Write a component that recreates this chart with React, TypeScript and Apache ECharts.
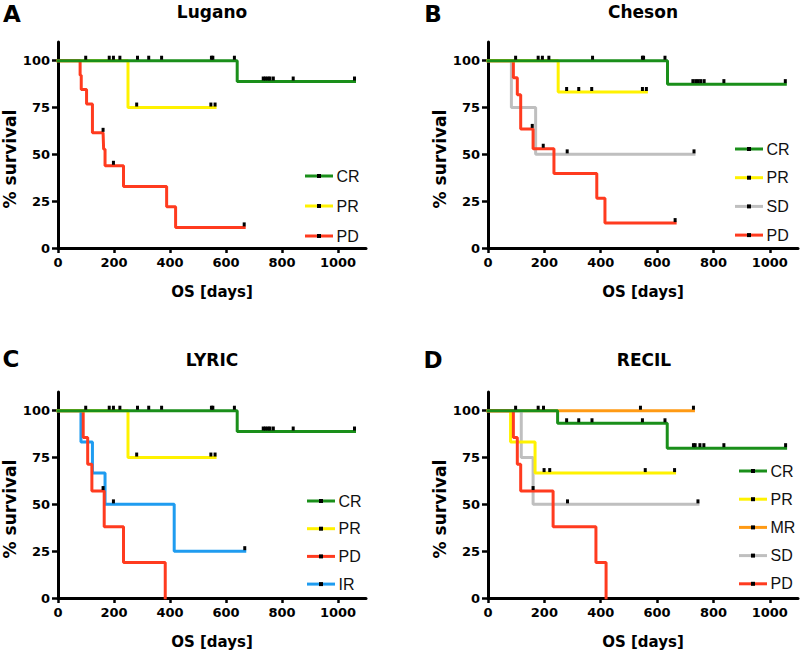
import React, { useEffect, useRef } from "react";
import * as echarts from "echarts";

// Each entry: [day, survival %, censored (1) / event (0)]
type KM = [number, number, number][];

// ---------- A: Lugano ----------
const luganoCR: KM = [[0,100,0],[99,100,1],[183,100,1],[198,100,1],[221,100,1],[284,100,1],[324,100,1],[370,100,1],[548,100,1],[553,100,1],[630,100,1],[640,88.9,0],[733,88.9,1],[741,88.9,1],[750,88.9,1],[757,88.9,1],[769,88.9,1],[840,88.9,1],[1059,88.9,1]];
const luganoPR: KM = [[0,100,0],[250,75,0],[281,75,1],[546,75,1],[561,75,1]];
const luganoPD: KM = [[0,100,0],[79,92.3,0],[83,84.6,0],[102,76.9,0],[123,61.5,0],[161,61.5,1],[163,52.7,0],[168,43.9,0],[198,43.9,1],[234,32.9,0],[388,22,0],[420,11,0],[665,11,1]];

// ---------- B: Cheson ----------
const chesonCR: KM = [[0,100,0],[98,100,1],[178,100,1],[193,100,1],[216,100,1],[371,100,1],[548,100,1],[552,100,1],[628,100,1],[637,87.5,0],[727,87.5,1],[737,87.5,1],[746,87.5,1],[755,87.5,1],[767,87.5,1],[837,87.5,1],[1055,87.5,1]];
const chesonPR: KM = [[0,100,0],[249,83.3,0],[279,83.3,1],[322,83.3,1],[368,83.3,1],[548,83.3,1],[562,83.3,1]];
const chesonSD: KM = [[0,100,0],[83,75,0],[169,50,0],[281,50,1],[731,50,1]];
const chesonPD: KM = [[0,100,0],[90,90.9,0],[104,81.8,0],[116,63.6,0],[157,63.6,1],[160,53,0],[196,53,1],[234,39.8,0],[386,26.5,0],[415,13.3,0],[664,13.3,1]];

// ---------- C: LYRIC ----------
const lyricCR: KM = [[0,100,0],[99,100,1],[183,100,1],[198,100,1],[221,100,1],[284,100,1],[324,100,1],[370,100,1],[548,100,1],[553,100,1],[630,100,1],[640,88.9,0],[733,88.9,1],[741,88.9,1],[750,88.9,1],[757,88.9,1],[769,88.9,1],[840,88.9,1],[1059,88.9,1]];
const lyricPR: KM = [[0,100,0],[250,75,0],[281,75,1],[546,75,1],[561,75,1]];
const lyricPD: KM = [[0,100,0],[90,85.7,0],[106,71.4,0],[121,57.1,0],[161,57.1,1],[165,38.1,0],[234,19,0],[383,0,0]];
const lyricIR: KM = [[0,100,0],[82,83.3,0],[123,66.7,0],[168,50,0],[198,50,1],[415,25,0],[667,25,1]];

// ---------- D: RECIL ----------
const recilCR: KM = [[0,100,0],[98,100,1],[178,100,1],[197,100,1],[247,93.3,0],[279,93.3,1],[322,93.3,1],[369,93.3,1],[548,93.3,1],[628,93.3,1],[636,80,0],[729,80,1],[735,80,1],[752,80,1],[766,80,1],[837,80,1],[1056,80,1]];
const recilPR: KM = [[0,100,0],[80,83.3,0],[167,66.7,0],[199,66.7,1],[219,66.7,1],[558,66.7,1],[662,66.7,1]];
const recilMR: KM = [[0,100,0],[541,100,1],[729,100,1]];
const recilSD: KM = [[0,100,0],[118,75,0],[160,50,0],[282,50,1],[745,50,1]];
const recilPD: KM = [[0,100,0],[90,85.7,0],[104,71.4,0],[116,57.1,0],[160,57.1,1],[231,38.1,0],[383,19,0],[419,0,0]];

// ---------- axes ----------
const xTicks = [0, 200, 400, 600, 800, 1000];
const yTicks = [0, 25, 50, 75, 100];
const xMax = 1100;
const yMax = 110;

const panelTitles = ["Lugano", "Cheson", "LYRIC", "RECIL"];
const panelLetters = ["A", "B", "C", "D"];

// legend order per panel
const legendOrder = [
  ["CR", "PR", "PD"],
  ["CR", "PR", "SD", "PD"],
  ["CR", "PR", "PD", "IR"],
  ["CR", "PR", "MR", "SD", "PD"],
];

// draw order (last on top)
const panelSeries: [string, KM][][] = [
  [["PR", luganoPR], ["PD", luganoPD], ["CR", luganoCR]],
  [["SD", chesonSD], ["PD", chesonPD], ["PR", chesonPR], ["CR", chesonCR]],
  [["IR", lyricIR], ["PD", lyricPD], ["PR", lyricPR], ["CR", lyricCR]],
  [["MR", recilMR], ["SD", recilSD], ["PR", recilPR], ["PD", recilPD], ["CR", recilCR]],
];

const COLORS: Record<string, string> = {
  CR: "#1a8f1a",
  PR: "#fff200",
  PD: "#ff3b1f",
  SD: "#bfbfbf",
  IR: "#1f9cf0",
  MR: "#ff9a14",
};

// layout
const grids = [
  { left: 57, top: 42, width: 309, height: 206 },
  { left: 488, top: 42, width: 310, height: 206 },
  { left: 57, top: 392, width: 309, height: 206 },
  { left: 488, top: 392, width: 310, height: 206 },
];
const legendPos = [
  { left: 300, top: 163, itemGap: 14 },
  { left: 730, top: 136, itemGap: 12.7 },
  { left: 302, top: 488, itemGap: 11.7 },
  { left: 734, top: 458, itemGap: 12.2 },
];
const titlePos = [
  { x: 212, y: 12 },
  { x: 643, y: 12 },
  { x: 212, y: 360 },
  { x: 644, y: 360 },
];
const letterPos = [
  { x: 12, y: 14 },
  { x: 433, y: 14 },
  { x: 11, y: 359 },
  { x: 433, y: 360 },
];

const BOLD = "DejaVu Sans";

export default function App() {
  const ref = useRef<HTMLDivElement>(null);
  useEffect(() => {
    if (!ref.current) return;
    const chart = echarts.init(ref.current, undefined, { renderer: "svg" });

    const series: any[] = [];
    panelSeries.forEach((list, pi) => {
      list.forEach(([name, data]) => {
        series.push({
          type: "line",
          name,
          xAxisIndex: pi,
          yAxisIndex: pi,
          step: "end",
          symbol: "rect",
          symbolSize: [3, 4],
          symbolOffset: [0, -3],
          showSymbol: true,
          showAllSymbol: true,
          silent: true,
          lineStyle: { color: COLORS[name], width: 3, cap: "square" },
          itemStyle: { color: "#000" },
          data: data.map(([x, y, c]) => ({
            value: [x, y],
            symbol: c ? "rect" : "none",
          })),
        });
      });
    });

    const axisLabelStyle = {
      fontFamily: BOLD,
      fontWeight: "bold",
      fontSize: 13,
      color: "#000",
    };

    const xAxis = grids.map((_, i) => ({
      type: "value",
      gridIndex: i,
      min: 0,
      max: xMax,
      interval: 200,
      axisLine: { show: true, onZero: false, lineStyle: { color: "#000", width: 3 } },
      axisTick: { show: true, length: 5, customValues: xTicks, lineStyle: { color: "#000", width: 2.5 } },
      axisLabel: {
        ...axisLabelStyle,
        margin: 8,
        customValues: xTicks,
        formatter: (v: number) => String(v),
      },
      splitLine: { show: false },
      name: "OS [days]",
      nameLocation: "middle",
      nameGap: 36,
      nameTextStyle: { fontFamily: BOLD, fontWeight: "bold", fontSize: 15, color: "#000" },
    }));

    const yAxis = grids.map((_, i) => ({
      type: "value",
      gridIndex: i,
      min: 0,
      max: yMax,
      interval: 25,
      axisLine: { show: true, onZero: false, lineStyle: { color: "#000", width: 3 } },
      axisTick: { show: true, length: 6, customValues: yTicks, lineStyle: { color: "#000", width: 2.5 } },
      axisLabel: {
        ...axisLabelStyle,
        margin: 8,
        customValues: yTicks,
        formatter: (v: number) => String(v),
      },
      splitLine: { show: false },
      name: "% survival",
      nameLocation: "middle",
      nameGap: 40,
      nameRotate: 90,
      nameTextStyle: {
        fontFamily: BOLD,
        fontWeight: "bold",
        fontSize: 17,
        color: "#000",
        padding: [0, 28, 0, 0],
      },
    }));

    const legend = legendOrder.map((names, i) => ({
      show: true,
      orient: "vertical",
      left: legendPos[i].left,
      top: legendPos[i].top,
      itemGap: legendPos[i].itemGap,
      itemWidth: 25,
      itemHeight: 5,
      selectedMode: false,
      data: names,
      lineStyle: { width: 3 },
      textStyle: { fontFamily: "Liberation Sans", fontSize: 16, color: "#111" },
    }));

    const graphic: any[] = [];
    panelTitles.forEach((t, i) => {
      graphic.push({
        type: "text",
        x: titlePos[i].x,
        y: titlePos[i].y,
        silent: true,
        style: {
          text: t,
          fontFamily: BOLD,
          fontWeight: "bold",
          fontSize: 17,
          fill: "#000",
          align: "center",
          verticalAlign: "middle",
        },
      });
      graphic.push({
        type: "text",
        x: letterPos[i].x,
        y: letterPos[i].y,
        silent: true,
        style: {
          text: panelLetters[i],
          fontFamily: BOLD,
          fontWeight: "bold",
          fontSize: 23,
          fill: "#000",
          align: "center",
          verticalAlign: "middle",
        },
      });
    });

    chart.setOption({
      animation: false,
      backgroundColor: "#fff",
      grid: grids.map((g) => ({ ...g, containLabel: false })),
      xAxis,
      yAxis,
      legend,
      graphic,
      series,
    });
    return () => chart.dispose();
  }, []);

  return (
    <div
      ref={ref}
      style={{ position: "absolute", left: 0, top: 0, width: 800, height: 650 }}
    />
  );
}
